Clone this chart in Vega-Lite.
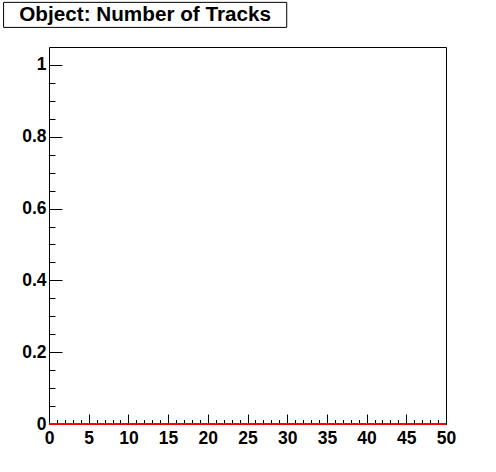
{
  "$schema": "https://vega.github.io/schema/vega-lite/v6.json",
  "background": "white",
  "autosize": "none",
  "padding": {"left": 49, "top": 47, "right": 50, "bottom": 48},
  "width": 397,
  "height": 377,
  "config": {
    "font": "Liberation Sans",
    "view": {"stroke": "black", "strokeWidth": 1}
  },
  "resolve": {"axis": {"x": "independent", "y": "independent"}},
  "layer": [
    {
      "data": {"values": [
        {"bin_start": 0, "bin_end": 1, "count": 0}, {"bin_start": 1, "bin_end": 2, "count": 0},
        {"bin_start": 2, "bin_end": 3, "count": 0}, {"bin_start": 3, "bin_end": 4, "count": 0},
        {"bin_start": 4, "bin_end": 5, "count": 0}, {"bin_start": 5, "bin_end": 6, "count": 0},
        {"bin_start": 6, "bin_end": 7, "count": 0}, {"bin_start": 7, "bin_end": 8, "count": 0},
        {"bin_start": 8, "bin_end": 9, "count": 0}, {"bin_start": 9, "bin_end": 10, "count": 0},
        {"bin_start": 10, "bin_end": 11, "count": 0}, {"bin_start": 11, "bin_end": 12, "count": 0},
        {"bin_start": 12, "bin_end": 13, "count": 0}, {"bin_start": 13, "bin_end": 14, "count": 0},
        {"bin_start": 14, "bin_end": 15, "count": 0}, {"bin_start": 15, "bin_end": 16, "count": 0},
        {"bin_start": 16, "bin_end": 17, "count": 0}, {"bin_start": 17, "bin_end": 18, "count": 0},
        {"bin_start": 18, "bin_end": 19, "count": 0}, {"bin_start": 19, "bin_end": 20, "count": 0},
        {"bin_start": 20, "bin_end": 21, "count": 0}, {"bin_start": 21, "bin_end": 22, "count": 0},
        {"bin_start": 22, "bin_end": 23, "count": 0}, {"bin_start": 23, "bin_end": 24, "count": 0},
        {"bin_start": 24, "bin_end": 25, "count": 0}, {"bin_start": 25, "bin_end": 26, "count": 0},
        {"bin_start": 26, "bin_end": 27, "count": 0}, {"bin_start": 27, "bin_end": 28, "count": 0},
        {"bin_start": 28, "bin_end": 29, "count": 0}, {"bin_start": 29, "bin_end": 30, "count": 0},
        {"bin_start": 30, "bin_end": 31, "count": 0}, {"bin_start": 31, "bin_end": 32, "count": 0},
        {"bin_start": 32, "bin_end": 33, "count": 0}, {"bin_start": 33, "bin_end": 34, "count": 0},
        {"bin_start": 34, "bin_end": 35, "count": 0}, {"bin_start": 35, "bin_end": 36, "count": 0},
        {"bin_start": 36, "bin_end": 37, "count": 0}, {"bin_start": 37, "bin_end": 38, "count": 0},
        {"bin_start": 38, "bin_end": 39, "count": 0}, {"bin_start": 39, "bin_end": 40, "count": 0},
        {"bin_start": 40, "bin_end": 41, "count": 0}, {"bin_start": 41, "bin_end": 42, "count": 0},
        {"bin_start": 42, "bin_end": 43, "count": 0}, {"bin_start": 43, "bin_end": 44, "count": 0},
        {"bin_start": 44, "bin_end": 45, "count": 0}, {"bin_start": 45, "bin_end": 46, "count": 0},
        {"bin_start": 46, "bin_end": 47, "count": 0}, {"bin_start": 47, "bin_end": 48, "count": 0},
        {"bin_start": 48, "bin_end": 49, "count": 0}, {"bin_start": 49, "bin_end": 50, "count": 0}
      ]},
      "mark": {"type": "rule", "color": "#ff0000", "strokeWidth": 2},
      "encoding": {
        "x": {
          "field": "bin_start", "type": "quantitative",
          "scale": {"domain": [0, 50], "nice": false, "zero": false},
          "axis": {
            "orient": "bottom",
            "title": null,
            "domain": false,
            "grid": false,
            "values": [0,1,2,3,4,5,6,7,8,9,10,11,12,13,14,15,16,17,18,19,20,21,22,23,24,25,26,27,28,29,30,31,32,33,34,35,36,37,38,39,40,41,42,43,44,45,46,47,48,49,50],
            "tickColor": "black",
            "tickWidth": 1,
            "tickSize": {"condition": {"test": "datum.value % 5 === 0", "value": -10}, "value": -4.5},
            "labelPadding": {"condition": {"test": "datum.value % 5 === 0", "value": 15}, "value": 9.5},
            "labelExpr": "datum.value % 5 === 0 ? datum.label : ''",
            "labelFont": "Liberation Sans",
            "labelFontWeight": "bold",
            "labelFontSize": 17.5,
            "labelColor": "black",
            "labelFlush": false,
            "labelOverlap": false
          }
        },
        "x2": {"field": "bin_end"},
        "y": {
          "field": "count", "type": "quantitative",
          "scale": {"domain": [0, 1.05], "nice": false, "zero": false},
          "axis": {
            "orient": "left",
            "title": null,
            "domain": false,
            "grid": false,
            "values": [0,0.05,0.1,0.15,0.2,0.25,0.3,0.35,0.4,0.45,0.5,0.55,0.6,0.65,0.7,0.75,0.8,0.85,0.9,0.95,1],
            "tickColor": "black",
            "tickWidth": 1,
            "tickSize": {"condition": {"test": "abs(datum.value*5 - round(datum.value*5)) < 1e-6", "value": -13}, "value": -6},
            "labelPadding": {"condition": {"test": "abs(datum.value*5 - round(datum.value*5)) < 1e-6", "value": 16}, "value": 9},
            "labelExpr": "abs(datum.value*5 - round(datum.value*5)) < 1e-6 ? format(datum.value, '.1~f') : ''",
            "labelFont": "Liberation Sans",
            "labelFontWeight": "bold",
            "labelFontSize": 17.5,
            "labelColor": "black",
            "labelFlush": false,
            "labelOverlap": false
          }
        }
      }
    },
    {
      "data": {"values": [{"title": "Object: Number of Tracks"}]},
      "mark": {"type": "rect", "fill": "white", "stroke": "black", "strokeWidth": 1, "clip": false},
      "encoding": {
        "x": {"datum": -5.72, "type": "quantitative", "axis": null},
        "x2": {"datum": 29.94},
        "y": {"datum": 1.1046, "type": "quantitative", "axis": null},
        "y2": {"datum": 1.1743}
      }
    },
    {
      "data": {"values": [{"title": "Object: Number of Tracks"}]},
      "mark": {"type": "text", "font": "Liberation Sans", "fontWeight": "bold", "fontSize": 20.7, "color": "black", "baseline": "middle", "align": "center", "clip": false},
      "encoding": {
        "x": {"datum": 12.11, "type": "quantitative", "axis": null},
        "y": {"datum": 1.1395, "type": "quantitative", "axis": null},
        "text": {"field": "title", "type": "nominal"}
      }
    }
  ]
}
